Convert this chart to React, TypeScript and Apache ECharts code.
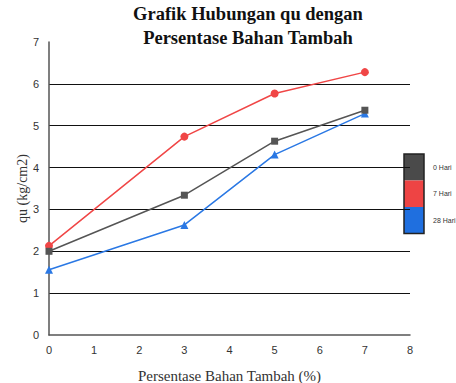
import React, { useEffect, useRef } from "react";
import * as echarts from "echarts";

const xValues = [0, 3, 5, 7];
const seriesNames = ["0 Hari", "7 Hari", "28 Hari"];
const hari0 = [2.0, 3.34, 4.63, 5.37];
const hari7 = [2.13, 4.74, 5.77, 6.28];
const hari28 = [1.56, 2.63, 4.31, 5.29];
const seriesColors = ["#555555", "#f04646", "#2a78e4"];
const legendColors = ["#4a4a4a", "#ee4444", "#1f6fdf"];
const symbols = ["rect", "circle", "triangle"];

export default function App() {
  const ref = useRef<HTMLDivElement>(null);
  useEffect(() => {
    document.body.style.margin = "0";
    const chart = echarts.init(ref.current!, null, { renderer: "svg" });
    const data = [hari0, hari7, hari28];
    const legendTop = 154;
    const segH = 26.5;
    const legendItems: any[] = [];
    seriesNames.forEach((n, i) => {
      legendItems.push({
        type: "rect",
        shape: { x: 404, y: legendTop + i * segH, width: 20, height: segH },
        style: { fill: legendColors[i] },
      });
      legendItems.push({
        type: "text",
        x: 433,
        y: legendTop + i * segH + segH / 2,
        style: {
          text: n,
          fill: "#333",
          font: "7px 'Liberation Sans', Arial, sans-serif",
          verticalAlign: "middle",
        },
      });
    });
    legendItems.push({
      type: "rect",
      shape: { x: 404, y: legendTop, width: 20, height: segH * 3 },
      style: { fill: "none", stroke: "#222", lineWidth: 1.5 },
    });
    chart.setOption({
      animation: false,
      title: {
        text: "Grafik Hubungan qu dengan\nPersentase Bahan Tambah",
        left: 248,
        textAlign: "center",
        top: 2,
        padding: 0,
        textStyle: {
          fontFamily: "'Liberation Serif', 'Times New Roman', serif",
          fontWeight: "bold",
          fontSize: 18.5,
          lineHeight: 24,
          color: "#111",
        },
      },
      grid: { left: 49, right: 46, top: 42, bottom: 48, outerBoundsMode: "none", containLabel: false },
      xAxis: {
        type: "value",
        min: 0,
        max: 8,
        interval: 1,
        name: "Persentase Bahan Tambah (%)",
        nameLocation: "middle",
        nameGap: 33,
        nameMoveOverlap: false,
        nameTextStyle: {
          fontFamily: "'Liberation Serif', 'Times New Roman', serif",
          fontSize: 15,
          color: "#333",
        },
        axisLine: { show: true, lineStyle: { color: "#555", width: 1.5 } },
        axisTick: { show: false },
        splitLine: { show: false },
        axisLabel: {
          margin: 9,
          fontFamily: "'Liberation Sans', Arial, sans-serif",
          fontSize: 11,
          color: "#333",
        },
      },
      yAxis: {
        type: "value",
        min: 0,
        max: 7,
        interval: 1,
        name: "qu (kg/cm2)",
        nameLocation: "middle",
        nameGap: 20,
        nameMoveOverlap: false,
        nameTextStyle: {
          fontFamily: "'Liberation Serif', 'Times New Roman', serif",
          fontSize: 14,
          color: "#333",
        },
        axisLine: { show: true, lineStyle: { color: "#555", width: 1.5 } },
        axisTick: { show: false },
        splitLine: {
          show: true,
          lineStyle: { color: "#111", width: 1 },
          showMaxLine: false,
          showMinLine: false,
        },
        axisLabel: {
          margin: 10,
          fontFamily: "'Liberation Sans', Arial, sans-serif",
          fontSize: 11,
          color: "#333",
        },
      },
      graphic: legendItems,
      series: seriesNames.map((n, i) => ({
        name: n,
        type: "line",
        data: xValues.map((x, j) => [x, data[i][j]]),
        symbol: symbols[i],
        symbolSize: i === 0 ? 7 : 8,
        showAllSymbol: true,
        lineStyle: { color: seriesColors[i], width: 1.5 },
        itemStyle: { color: seriesColors[i] },
        z: 3 - i,
      })),
    });
    return () => chart.dispose();
  }, []);
  return <div ref={ref} style={{ width: 456, height: 383 }} />;
}
